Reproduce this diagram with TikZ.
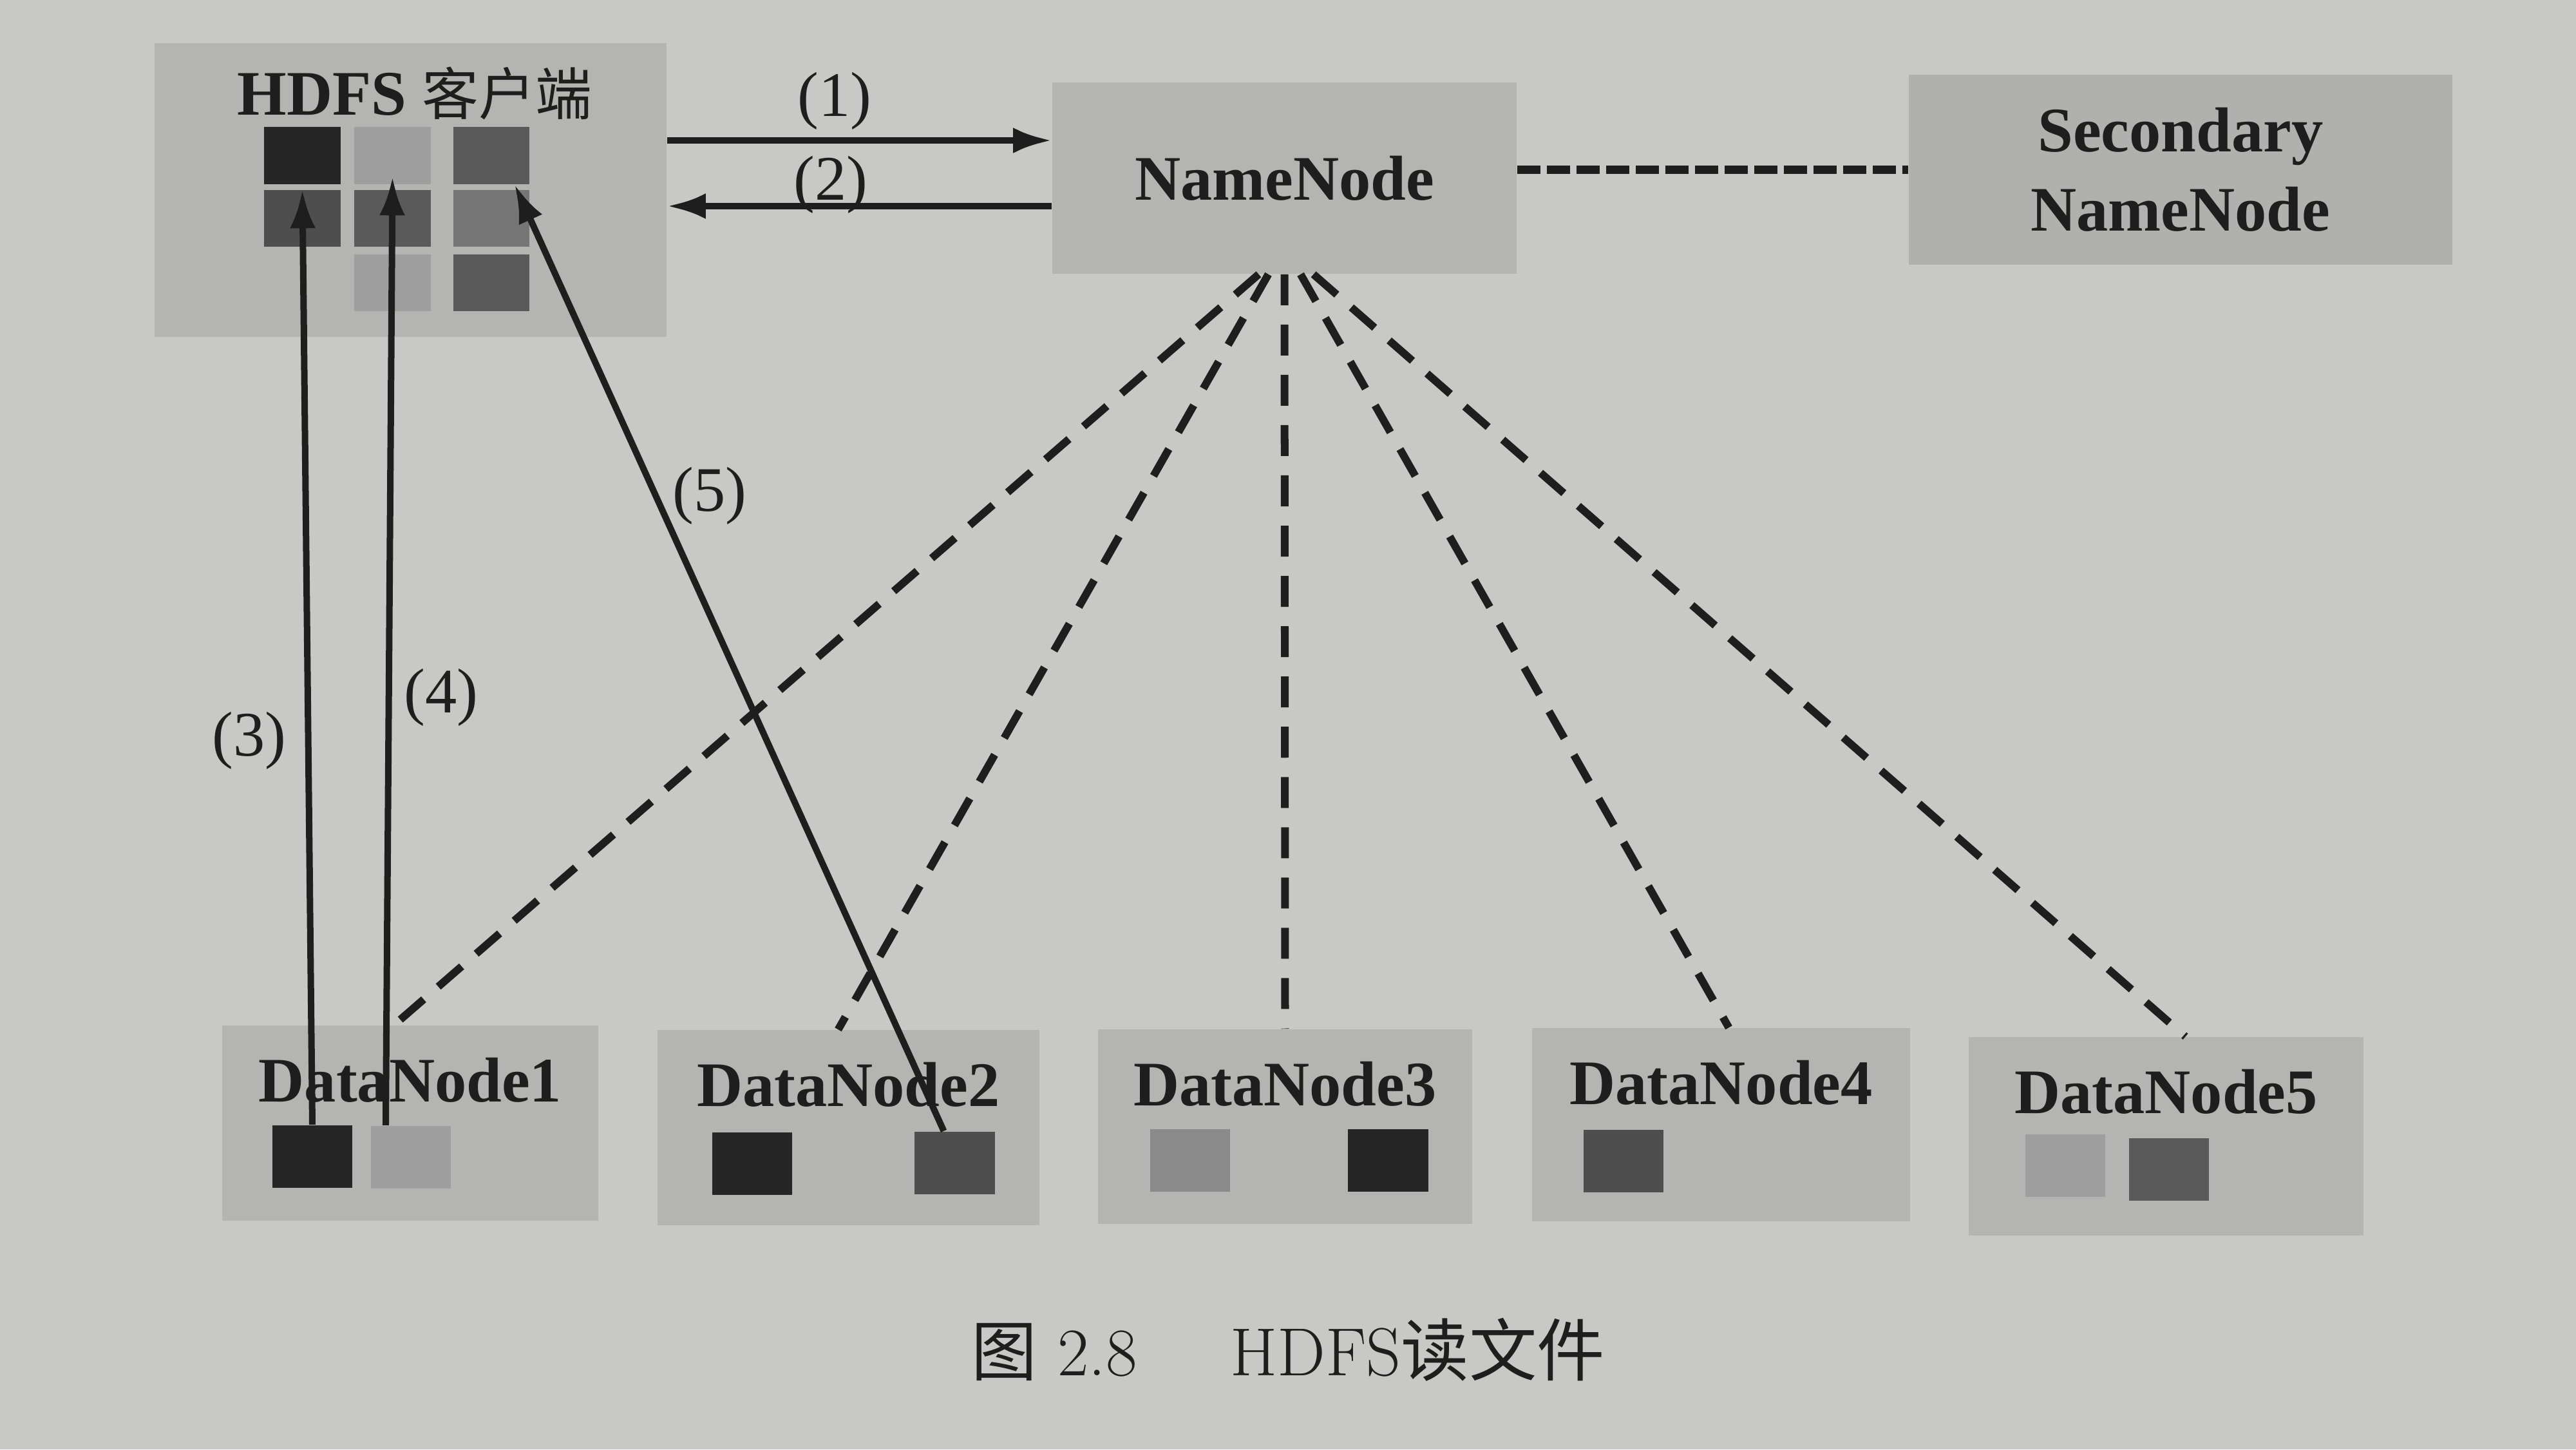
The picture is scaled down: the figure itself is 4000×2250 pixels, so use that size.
\documentclass[tikz,border=0pt]{standalone}
\usepackage{fontspec}
\usetikzlibrary{arrows.meta}
\newfontfamily\tnr{Liberation Serif}
\newfontfamily\cjk{Noto Sans CJK SC}
\definecolor{paper}{HTML}{C8C8C6}
\definecolor{boxgray}{HTML}{B4B4B2}
\definecolor{secgray}{HTML}{B0B0AE}
\definecolor{inkK}{HTML}{262626}
\definecolor{inkD}{HTML}{4E4E4E}
\definecolor{inkD2}{HTML}{5A5A5A}
\definecolor{inkM}{HTML}{767676}
\definecolor{inkM2}{HTML}{8A8A8A}
\definecolor{inkL}{HTML}{9E9E9E}
\definecolor{ink}{HTML}{1E1E1E}
\tikzset{
  box/.style={fill=boxgray, draw=none, inner sep=0pt},
  blk/.style={minimum width=1.24cm, minimum height=0.97cm, inner sep=0pt, draw=none},
  cblk/.style={minimum width=1.18cm, minimum height=0.88cm, inner sep=0pt, draw=none},
  lbl/.style={font=\tnr\bfseries\fontsize{28}{35}\selectfont, inner sep=0pt, text=ink, align=center},
  num/.style={font=\tnr\fontsize{28}{34}\selectfont, inner sep=0pt, text=ink},
  arr/.style={draw=ink, line width=0.1cm, -{Latex[length=0.6cm,width=0.4cm]}},
  dsh/.style={draw=ink, line width=0.12cm, dash pattern=on 0.48cm off 0.3cm},
  dshh/.style={draw=ink, line width=0.13cm, dash pattern=on 0.36cm off 0.1cm},
}
\begin{document}
\begin{tikzpicture}[x=0.01cm,y=-0.01cm]
\fill[paper] (0,0) rectangle (4000,2250);
\useasboundingbox (0,0) rectangle (4000,2250);

% main boxes
\node[box, minimum width=7.95cm, minimum height=4.56cm] (client) at (637.5,295) {};
\node[box, minimum width=7.21cm, minimum height=2.97cm] (nn) at (1994.5,276.5) {};
\node[box, fill=secgray, minimum width=8.44cm, minimum height=2.95cm] (sec) at (3386,263.5) {};
\node[box, minimum width=5.84cm, minimum height=3.03cm] (dn1) at (637,1743.5) {};
\node[box, minimum width=5.93cm, minimum height=3.03cm] (dn2) at (1317.5,1750.5) {};
\node[box, minimum width=5.81cm, minimum height=3.02cm] (dn3) at (1995.5,1749) {};
\node[box, minimum width=5.87cm, minimum height=3.00cm] (dn4) at (2672.5,1746) {};
\node[box, minimum width=6.13cm, minimum height=3.08cm] (dn5) at (3363.5,1764) {};

% client blocks
\node[cblk, fill=inkK]  (c11) at (469.5,241.5) {};
\node[cblk, fill=inkL]  (c12) at (609.5,241.5) {};
\node[cblk, fill=inkD2] (c13) at (763,241.5) {};
\node[cblk, fill=inkD]  (c21) at (469.5,339) {};
\node[cblk, fill=inkD2] (c22) at (609.5,339) {};
\node[cblk, fill=inkM]  (c23) at (763,339) {};
\node[cblk, fill=inkL]  (c32) at (609.5,439) {};
\node[cblk, fill=inkD2] (c33) at (763,439) {};

% datanode blocks
\node[blk, fill=inkK]  (d1a) at (485,1795) {};
\node[blk, fill=inkL]  (d1b) at (638,1796) {};
\node[blk, fill=inkK]  (d2a) at (1168,1806) {};
\node[blk, fill=inkD]  (d2b) at (1482.5,1805) {};
\node[blk, fill=inkM2] (d3a) at (1848,1801) {};
\node[blk, fill=inkK]  (d3b) at (2155.5,1801) {};
\node[blk, fill=inkD]  (d4a) at (2521,1802.5) {};
\node[blk, fill=inkL]  (d5a) at (3207,1809) {};
\node[blk, fill=inkD2] (d5b) at (3367.5,1815) {};

% dashed links
\draw[dshh] (nn.east |- sec.west) -- (sec.west);
\draw[dsh] ([xshift=-0.4cm]nn.south) -- ([xshift=-0.25cm]dn1.north);
\draw[dsh] ([xshift=-0.25cm]nn.south) -- ([xshift=-0.16cm]dn2.north);
\draw[dsh] (nn.south) -- (dn3.north);
\draw[dsh] ([xshift=0.25cm]nn.south) -- ([xshift=0.12cm]dn4.north);
\draw[dsh] ([xshift=0.45cm]nn.south) -- ([xshift=0.3cm]dn5.north);

% texts
\node[lbl, anchor=base west] (ctitle) at (368,178) {HDFS {\cjk\mdseries\fontsize{25}{30}\selectfont 客户端}};
\node[lbl] (nntext) at (nn) {NameNode};
\node[lbl] (sectext) at (sec) {Secondary\\NameNode};
\node[lbl] (dn1t) at ([yshift=-0.86cm]dn1.north) {DataNode1};
\node[lbl] (dn2t) at ([yshift=-0.86cm]dn2.north) {DataNode2};
\node[lbl] (dn3t) at ([yshift=-0.86cm]dn3.north) {DataNode3};
\node[lbl] (dn4t) at ([yshift=-0.86cm]dn4.north) {DataNode4};
\node[lbl] (dn5t) at ([yshift=-0.86cm]dn5.north) {DataNode5};

% solid arrows
\coordinate (ya) at (0,218);
\coordinate (yb) at (0,320);
\draw[arr] (client.east |- ya) -- (nn.west |- ya);
\draw[arr] (nn.west |- yb) -- (client.east |- yb);
\draw[arr] (d1a.north) -- (c21.north);
\draw[arr] ([xshift=-0.39cm]d1b.north) -- ([yshift=0.2cm]c22.north);
\draw[arr] ([xshift=-0.17cm]d2b.north) -- ([xshift=0.36cm]c13.south);

% step labels
\node[num] (l1) at (1296,157) {(1)};
\node[num] (l2) at (1290,287) {(2)};
\node[num] (l3) at (387,1150) {(3)};
\node[num] (l4) at (685,1083) {(4)};
\node[num] (l5) at (1102,770) {(5)};

% caption
\node[anchor=base west, inner sep=0pt, text=ink, font=\fontsize{30}{34}\selectfont] (cap1) at (1508,2135) {{\cjk\fontsize{29}{32}\selectfont 图} 2.8};
\node[anchor=base west, inner sep=0pt, text=ink, font=\fontsize{30}{34}\selectfont] (cap2) at (1910,2135) {HDFS{\cjk\fontsize{30}{32}\selectfont 读文件}};
\end{tikzpicture}
\end{document}
